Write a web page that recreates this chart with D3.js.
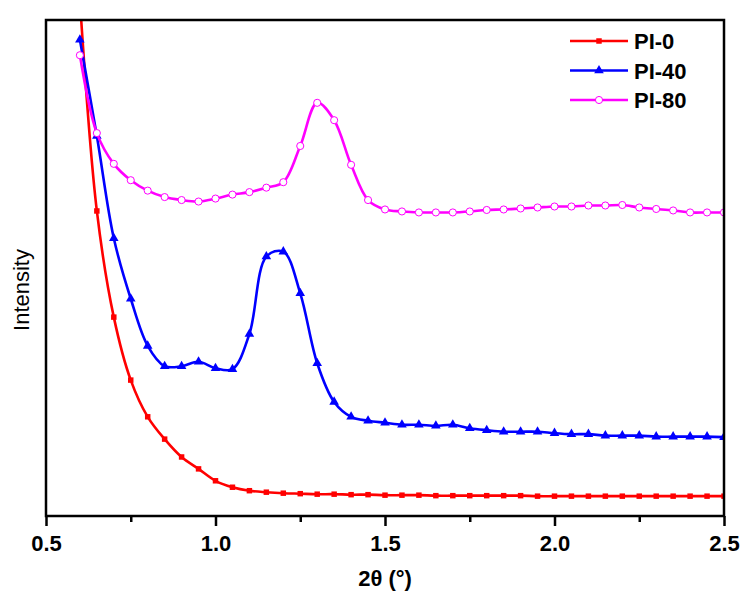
<!DOCTYPE html>
<html>
<head>
<meta charset="utf-8">
<script src="https://cdn.jsdelivr.net/npm/d3@7"></script>
<style>
  body { margin: 0; background: #fff; }
</style>
</head>
<body>
<div id="chart"></div>
<script>
// 2theta values (deg), one marker every 0.05
var twoTheta = d3.range(0, 39).map(function(i){ return +(0.6 + i * 0.05).toFixed(2); });

var pi0 = [104, 61.5, 40.1, 27.4, 20.0, 15.5, 11.9, 9.5, 7.1, 5.8,
           5.1, 4.8, 4.6, 4.5, 4.4, 4.4, 4.3, 4.3, 4.2, 4.2,
           4.2, 4.1, 4.1, 4.1, 4.1, 4.1, 4.1, 4.0, 4.0, 4.0,
           4.0, 4.0, 4.0, 4.0, 4.0, 4.0, 4.0, 4.0, 4.0];
var pi40 = [96.0, 76.6, 56.0, 43.8, 34.3, 30.2, 30.2, 31.1, 29.8, 29.6,
            36.7, 52.3, 53.3, 44.9, 30.8, 23.0, 20.0, 19.2, 18.8, 18.4,
            18.4, 18.2, 18.4, 17.7, 17.3, 17.0, 17.0, 17.0, 16.7, 16.5,
            16.5, 16.2, 16.2, 16.2, 16.0, 16.0, 16.0, 16.0, 15.9];
var pi80 = [92.9, 77.2, 71.0, 67.7, 65.6, 64.3, 63.7, 63.4, 64.0, 64.8,
            65.3, 66.2, 67.3, 74.6, 83.3, 79.8, 70.8, 63.7, 61.8, 61.4,
            61.2, 61.2, 61.2, 61.4, 61.7, 61.8, 62.0, 62.2, 62.4, 62.4,
            62.6, 62.6, 62.7, 62.2, 61.9, 61.6, 61.2, 61.2, 61.2];

var seriesNames = ['PI-0', 'PI-40', 'PI-80'];
var seriesColors = ['#ff0000', '#0000ff', '#ff00ff'];
var xTicks = [0.5, 1.0, 1.5, 2.0, 2.5];
var xMinorTicks = [0.75, 1.25, 1.75, 2.25];

(function(){
  'use strict';

  var width = 749, height = 598;
  var plotLeft = 46, plotRight = 724, plotTop = 20, plotBottom = 516;
  var font = 'Liberation Sans, Arial, sans-serif';

  var svg = d3.select('#chart').append('svg')
              .attr('width', width).attr('height', height);

  var x = d3.scaleLinear().domain([0.5, 2.5]).range([plotLeft, plotRight]);
  var y = d3.scaleLinear().domain([0, 100]).range([plotBottom, plotTop]);

  svg.append('clipPath').attr('id', 'plot-clip')
     .append('rect')
     .attr('x', plotLeft).attr('y', plotTop)
     .attr('width', plotRight - plotLeft).attr('height', plotBottom - plotTop);

  var line = d3.line()
               .x(function(d){ return x(d[0]); })
               .y(function(d){ return y(d[1]); })
               .curve(d3.curveCatmullRom.alpha(0.5));

  var allSeries = [pi0, pi40, pi80].map(function(vals){
    return vals.map(function(v, i){ return [twoTheta[i], v]; });
  });

  var plot = svg.append('g').attr('clip-path', 'url(#plot-clip)');

  var symbols = [d3.symbolSquare, d3.symbolTriangle, d3.symbolCircle];
  var symbolSizes = [30, 40, 40];

  function drawMarker(g, k, px, py){
    var p = g.append('path')
             .attr('d', d3.symbol().type(symbols[k]).size(symbolSizes[k])())
             .attr('transform', 'translate(' + px + ',' + py + ')');
    if (k === 2) {
      p.attr('fill', '#fff').attr('stroke', seriesColors[k]).attr('stroke-width', 1);
    } else {
      p.attr('fill', seriesColors[k]);
    }
  }

  allSeries.forEach(function(data, k){
    plot.append('path')
        .datum(data)
        .attr('d', line)
        .attr('fill', 'none')
        .attr('stroke', seriesColors[k])
        .attr('stroke-width', 2.6);
    data.forEach(function(d){
      drawMarker(plot, k, x(d[0]), y(d[1]));
    });
  });

  // frame
  svg.append('rect')
     .attr('x', plotLeft).attr('y', plotTop)
     .attr('width', plotRight - plotLeft).attr('height', plotBottom - plotTop)
     .attr('fill', 'none').attr('stroke', '#000').attr('stroke-width', 2.5);

  // x axis
  var xAxis = svg.append('g')
     .attr('transform', 'translate(0,' + plotBottom + ')')
     .call(d3.axisBottom(x).tickValues(xTicks).tickSize(10).tickSizeOuter(0)
             .tickFormat(d3.format('.1f')));
  xAxis.select('.domain').remove();
  xAxis.selectAll('line').attr('stroke', '#000').attr('stroke-width', 2.5);
  xAxis.selectAll('text')
       .attr('y', 19)
       .attr('font-family', font)
       .attr('font-size', '22px')
       .attr('font-weight', 'bold')
       .attr('fill', '#000');

  var xMinor = svg.append('g')
     .attr('transform', 'translate(0,' + plotBottom + ')')
     .call(d3.axisBottom(x).tickValues(xMinorTicks).tickSize(6).tickFormat(''));
  xMinor.select('.domain').remove();
  xMinor.selectAll('line').attr('stroke', '#000').attr('stroke-width', 2.5);

  // axis titles
  svg.append('text')
     .attr('x', (plotLeft + plotRight) / 2).attr('y', 586)
     .attr('text-anchor', 'middle')
     .attr('font-family', font)
     .attr('font-size', '22px')
     .attr('font-weight', 'bold')
     .text('2\u03b8 (\u00b0)');

  svg.append('text')
     .attr('transform', 'translate(29,290) rotate(-90)')
     .attr('text-anchor', 'middle')
     .attr('font-family', font)
     .attr('font-size', '22px')
     .text('Intensity');

  // legend
  var legend = svg.append('g');
  seriesNames.forEach(function(name, k){
    var ly = 41 + k * 29.5;
    legend.append('line')
          .attr('x1', 570).attr('x2', 628)
          .attr('y1', ly).attr('y2', ly)
          .attr('stroke', seriesColors[k]).attr('stroke-width', 2.6);
    drawMarker(legend, k, 599, ly);
    legend.append('text')
          .attr('x', 634).attr('y', ly + 8)
          .attr('font-family', font)
          .attr('font-size', '22px')
          .attr('font-weight', 'bold')
          .text(name);
  });
})();
</script>
</body>
</html>
